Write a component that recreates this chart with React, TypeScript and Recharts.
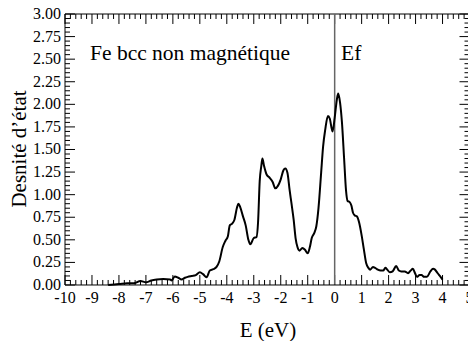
import React from 'react';
import { LineChart, Line, XAxis, YAxis, ReferenceLine } from 'recharts';

// Energies (eV) relative to the Fermi level
const energies = [
  -8.4, -8.0, -7.7, -7.45, -7.2, -7.0, -6.8, -6.6, -6.36, -6.1, -6.05, -5.93, -5.8, -5.68, -5.55,
  -5.45, -5.3, -5.15, -5.0, -4.88, -4.75, -4.63, -4.5, -4.38, -4.28, -4.15, -4.05, -3.96, -3.89,
  -3.8, -3.72, -3.62, -3.57, -3.5, -3.4, -3.3, -3.2, -3.13, -3.0, -2.9, -2.84, -2.78, -2.72, -2.68,
  -2.62, -2.52, -2.42, -2.3, -2.2, -2.1, -2.0, -1.9, -1.83, -1.75, -1.67, -1.6, -1.52, -1.45, -1.38,
  -1.3, -1.2, -1.1, -1.0, -0.92, -0.85, -0.75, -0.68, -0.6, -0.5, -0.43, -0.35, -0.25, -0.18, -0.08,
  0.0, 0.08, 0.13, 0.2, 0.27, 0.35, 0.42, 0.48, 0.55, 0.62, 0.68, 0.75, 0.82, 0.9, 1.0, 1.08, 1.17,
  1.25, 1.32, 1.42, 1.5, 1.6, 1.7, 1.8, 1.88, 1.95, 2.05, 2.15, 2.28, 2.38, 2.47, 2.6, 2.72, 2.82,
  2.9, 2.98, 3.05, 3.15, 3.22, 3.32, 3.42, 3.55, 3.65, 3.72, 3.82, 3.9, 4.0,
];

// Density of states
const dos = [
  0, 0.01, 0.02, 0.02, 0.045, 0.03, 0.05, 0.06, 0.065, 0.06, 0.05, 0.095, 0.08, 0.06, 0.08,
  0.09, 0.1, 0.11, 0.14, 0.12, 0.085, 0.16, 0.175, 0.2, 0.26, 0.42, 0.49, 0.54, 0.66,
  0.68, 0.72, 0.86, 0.9, 0.86, 0.76, 0.66, 0.5, 0.45, 0.52, 0.53, 0.7, 1.15, 1.32, 1.4,
  1.32, 1.22, 1.19, 1.14, 1.07, 1.1, 1.17, 1.27, 1.29, 1.24, 1.05, 0.9, 0.72, 0.52, 0.42,
  0.38, 0.41, 0.39, 0.35, 0.42, 0.52, 0.58, 0.65, 0.85, 1.25, 1.53, 1.72, 1.87, 1.84, 1.7,
  1.85, 2.05, 2.12, 2.02, 1.8, 1.4, 1.05, 0.93, 0.92, 0.88, 0.8, 0.77, 0.76, 0.7, 0.55, 0.4, 0.24,
  0.19, 0.17, 0.2, 0.19, 0.17, 0.16, 0.16, 0.19, 0.17, 0.14, 0.15, 0.21, 0.16, 0.15, 0.15, 0.13, 0.16,
  0.18, 0.13, 0.09, 0.11, 0.11, 0.09, 0.09, 0.15, 0.18, 0.17, 0.13, 0.1, 0.06,
];

const X_MIN = -10;
const X_MAX = 5;
const Y_MIN = 0;
const Y_MAX = 3;

const xMajor = [-10, -9, -8, -7, -6, -5, -4, -3, -2, -1, 0, 1, 2, 3, 4, 5];
const yMajor = [0, 0.25, 0.5, 0.75, 1, 1.25, 1.5, 1.75, 2, 2.25, 2.5, 2.75, 3];

const data = energies.map((e, i) => ({ e, dos: dos[i] }));

// minor ticks: 5 per eV, 5 per 0.25
const xMinor = Array.from({ length: 76 }, (_, i) => Number((-10 + i * 0.2).toFixed(1)));
const yMinor = Array.from({ length: 61 }, (_, i) => Number((i * 0.05).toFixed(2)));

const FONT = '"Liberation Serif", "Times New Roman", Times, serif';
const textStyle = (size: number) => ({ fontFamily: FONT, fontSize: size, fill: '#000' });

// plot box in px, used to turn tick lengths into data units
const PLOT_W = 404.5;
const PLOT_H = 271;
const MAJOR = 10;
const MINOR = 5;
const dx = (px: number) => (px / PLOT_W) * (X_MAX - X_MIN);
const dy = (px: number) => (px / PLOT_H) * (Y_MAX - Y_MIN);

const BottomLabel = (props: any) => (
  <text x={Number(props.x)} y={Number(props.y) + 18} textAnchor="middle" style={textStyle(16)}>
    {props.payload.value}
  </text>
);

const LeftLabel = (props: any) => (
  <text x={Number(props.x) - 4} y={Number(props.y) + 5} textAnchor="end" style={textStyle(16)}>
    {Number(props.payload.value).toFixed(2)}
  </text>
);

const axisLine = { stroke: '#000', strokeWidth: 1 };

// inward tick marks on all four sides of the frame
const tickMarks = () => {
  const marks: React.ReactNode[] = [];
  xMinor.forEach((v) => {
    const len = dy(xMajor.includes(v) ? MAJOR : MINOR);
    marks.push(
      <ReferenceLine key={`b${v}`} segment={[{ x: v, y: Y_MIN }, { x: v, y: Y_MIN + len }]} stroke="#000" strokeWidth={1} />,
      <ReferenceLine key={`t${v}`} segment={[{ x: v, y: Y_MAX }, { x: v, y: Y_MAX - len }]} stroke="#000" strokeWidth={1} />,
    );
  });
  yMinor.forEach((v) => {
    const len = dx(yMajor.includes(v) ? MAJOR : MINOR);
    marks.push(
      <ReferenceLine key={`l${v}`} segment={[{ x: X_MIN, y: v }, { x: X_MIN + len, y: v }]} stroke="#000" strokeWidth={1} />,
      <ReferenceLine key={`r${v}`} segment={[{ x: X_MAX, y: v }, { x: X_MAX - len, y: v }]} stroke="#000" strokeWidth={1} />,
    );
  });
  return marks;
};

export default function App() {
  return (
    <div style={{ position: 'absolute', left: 0, top: 0, width: 468, height: 341, overflow: 'hidden', background: '#fff' }}>
      <LineChart width={480} height={341} data={data} margin={{ top: 14, right: 10.5, bottom: 56, left: 65 }}>
        <XAxis
          dataKey="e"
          type="number"
          domain={[X_MIN, X_MAX]}
          ticks={xMajor}
          interval={0}
          tickSize={0}
          tickMargin={0}
          tickLine={false}
          tick={BottomLabel}
          height={0.01}
          axisLine={axisLine}
        />
        <YAxis
          type="number"
          domain={[Y_MIN, Y_MAX]}
          ticks={yMajor}
          interval={0}
          tickSize={0}
          tickMargin={0}
          tickLine={false}
          tick={LeftLabel}
          width={0.01}
          axisLine={axisLine}
        />
        <ReferenceLine y={Y_MAX} stroke="#000" strokeWidth={1} />
        <ReferenceLine x={X_MAX} stroke="#000" strokeWidth={1} />
        {tickMarks()}
        <ReferenceLine x={0} stroke="#666" strokeWidth={1.5} />
        <Line
          type="monotone"
          dataKey="dos"
          stroke="#000"
          strokeWidth={2}
          dot={false}
          isAnimationActive={false}
        />
        <text x={90} y={60} style={textStyle(21.5)}>
          Fe bcc non magnétique
        </text>
        <text x={341} y={60} style={textStyle(21.5)}>
          Ef
        </text>
        <text x={268} y={337} textAnchor="middle" style={textStyle(21)}>
          E (eV)
        </text>
        <text x={26} y={149} textAnchor="middle" style={textStyle(21)} transform="rotate(-90 26 149)">
          Desnité d’état
        </text>
      </LineChart>
    </div>
  );
}
